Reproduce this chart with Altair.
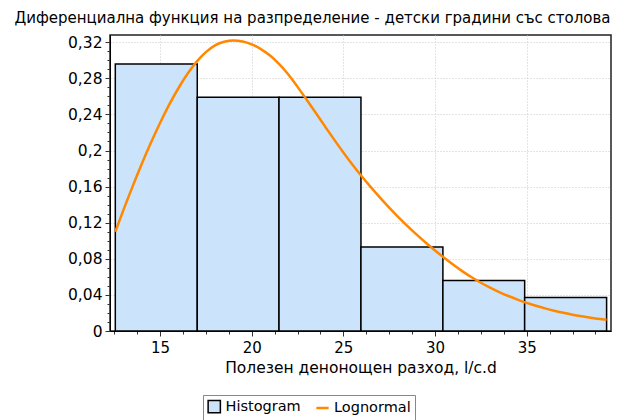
import altair as alt
import pandas as pd

# Histogram bins (relative frequency)
bin_start = [12.56, 17.03, 21.49, 25.96, 30.43, 34.89]
bin_end = [17.03, 21.49, 25.96, 30.43, 34.89, 39.36]
freq = [0.296, 0.259, 0.259, 0.093, 0.056, 0.037]

# Lognormal curve points
curve_x = [12.56, 13.0, 13.5, 14.0, 14.5, 15.0, 15.5, 16.0, 16.5, 17.0, 17.5, 18.0, 18.5, 19.0,
           19.5, 20.0, 20.5, 21.0, 21.5, 22.0, 22.5, 23.0, 23.5, 24.0, 24.5, 25.0, 25.5, 26.0,
           26.5, 27.0, 27.5, 28.0, 28.5, 29.0, 29.5, 30.0, 30.5, 31.0, 31.5, 32.0, 32.5, 33.0,
           33.5, 34.0, 34.5, 35.0, 35.5, 36.0, 36.5, 37.0, 37.5, 38.0, 38.5, 39.0, 39.36]
curve_y = [0.110, 0.1340, 0.1600, 0.1850, 0.2085, 0.2305, 0.2508, 0.2690, 0.2850, 0.2985, 0.3090,
           0.3165, 0.3205, 0.3218, 0.3208, 0.3176, 0.3124, 0.3052, 0.2958, 0.2843, 0.2705, 0.2562,
           0.2415, 0.2267, 0.2121, 0.1979, 0.1843, 0.1715, 0.1594, 0.1478, 0.1368, 0.1263, 0.1163,
           0.1068, 0.0978, 0.0893, 0.0811, 0.0733, 0.0661, 0.0595, 0.0535, 0.0481, 0.0432, 0.0388,
           0.0348, 0.0312, 0.0280, 0.0251, 0.0225, 0.0202, 0.0181, 0.0163, 0.0147, 0.0133, 0.0124]

x_ticks = [12.5, 13.75, 15, 16.25, 17.5, 18.75, 20, 21.25, 22.5, 23.75, 25, 26.25, 27.5, 28.75,
           30, 31.25, 32.5, 33.75, 35, 36.25, 37.5, 38.75]
y_ticks = [round(i * 0.01, 2) for i in range(33)]

title_text = "Диференциална функция на разпределение - детски градини със столова"
x_title = "Полезен денонощен разход, l/c.d"
series_names = ["Histogram", "Lognormal"]

FONT = "DejaVu Sans"
BLUE = "#cce4fb"
ORANGE = "#ff8800"

hist_df = pd.DataFrame({"x0": bin_start, "x1": bin_end, "f": freq, "series": series_names[0]})
curve_df = pd.DataFrame({"x": curve_x, "y": curve_y, "series": series_names[1]})

xscale = alt.Scale(domain=[12.27, 39.6], nice=False, zero=False)
yscale = alt.Scale(domain=[0, 0.328], nice=False)

x_major_test = "abs(datum.value % 5) < 0.001"
y_major_test = "abs(datum.value * 25 - round(datum.value * 25)) < 0.001"

x_axis = alt.Axis(
    values=x_ticks, title=x_title, titleFont=FONT, titleFontSize=15.5, titleFontWeight="normal",
    titleColor="black", titlePadding=5,
    labelExpr=f"({x_major_test}) ? format(datum.value, 'd') : ''",
    labelFont=FONT, labelFontSize=15, labelColor="black", labelPadding=4, labelOverlap=False,
    tickSize={"condition": {"test": x_major_test, "value": 5}, "value": 3},
    tickColor="#333", domainColor="black",
    gridOpacity={"condition": {"test": x_major_test, "value": 1}, "value": 0},
    gridDash=[1, 2], gridColor="#c8c8c8",
)
y_axis = alt.Axis(
    values=y_ticks, title=None,
    labelExpr=f"({y_major_test}) ? replace(format(datum.value, '.2~f'), '.', ',') : ''",
    labelFont=FONT, labelFontSize=15.5, labelColor="black", labelPadding=3, labelOverlap=False,
    tickSize={"condition": {"test": y_major_test, "value": 5}, "value": 3},
    tickColor="#333", domainColor="black",
    gridOpacity={"condition": {"test": y_major_test, "value": 1}, "value": 0},
    gridDash=[1, 2], gridColor="#c8c8c8",
)

legend = alt.Legend(
    orient="none", legendX=93, legendY=360, direction="horizontal", title=None,
    strokeColor="#888", fillColor="white", padding=4,
    labelFont=FONT, labelFontSize=14.5, labelColor="black", symbolSize=150, columnPadding=10,
    labelExpr="datum.label == 'Lognormal' ? datum.label + '\u00a0\u00a0\u00a0' : datum.label",
)
fill_enc = alt.Fill("series:N", scale=alt.Scale(domain=series_names, range=[BLUE, "transparent"]), legend=legend)
stroke_enc = alt.Stroke("series:N", scale=alt.Scale(domain=series_names, range=["black", ORANGE]), legend=legend)
sw_enc = alt.StrokeWidth("series:N", scale=alt.Scale(domain=series_names, range=[1.5, 2.5]), legend=legend)
shape_enc = alt.Shape("series:N", scale=alt.Scale(domain=series_names, range=["square", "stroke"]), legend=legend)

bars = alt.Chart(hist_df).mark_rect(opacity=1).encode(
    x=alt.X("x0:Q", scale=xscale, axis=x_axis),
    x2="x1:Q",
    y=alt.Y("f:Q", scale=yscale, axis=y_axis),
    y2=alt.datum(0),
    fill=fill_enc,
    stroke=stroke_enc,
    strokeWidth=sw_enc,
)
line = alt.Chart(curve_df).mark_line(interpolate="monotone").encode(
    x=alt.X("x:Q", scale=xscale, axis=x_axis),
    y=alt.Y("y:Q", scale=yscale, axis=y_axis),
    stroke=stroke_enc, strokeWidth=sw_enc,
)
ghost = alt.Chart(curve_df).mark_point(opacity=0).encode(
    x=alt.X("x:Q", scale=xscale, axis=x_axis),
    y=alt.Y("y:Q", scale=yscale, axis=y_axis),
    shape=shape_enc,
)

chart = alt.layer(bars, line, ghost).properties(
    width=501, height=296,
    title=alt.TitleParams(title_text, font=FONT, fontSize=15, fontWeight="normal", color="black",
                          anchor="middle", dx=-48, offset=9),
    autosize=alt.AutoSizeParams(type="none"),
    padding={"left": 102, "top": 27, "right": 6, "bottom": 89},
).configure_view(stroke="#222", strokeWidth=1.5).configure_axis(labelOverlap=False)

chart.save("out.html", embed_options={"renderer": "svg", "actions": False})
